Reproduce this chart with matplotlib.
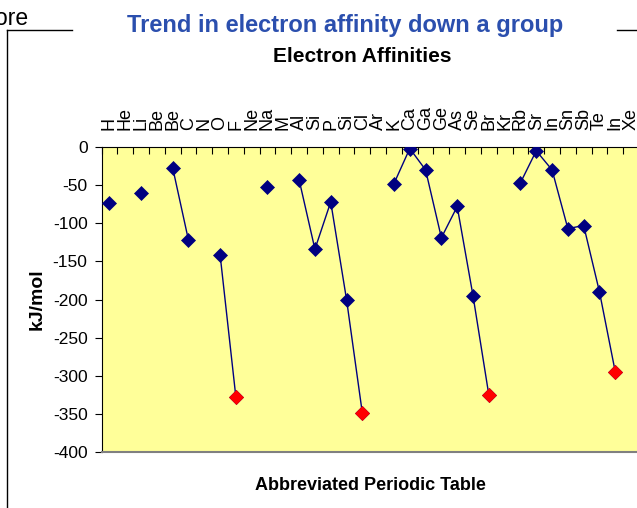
import numpy as np
import matplotlib
matplotlib.use("Agg")
import matplotlib.pyplot as plt
from matplotlib.lines import Line2D

plt.rcParams['font.family'] = ['Liberation Sans', 'DejaVu Sans']
plt.rcParams['axes.unicode_minus'] = False

# symbols along the top axis, as typed in the sheet
elements = ["H", "He", "Li", "Be", "Be", "C", "N", "O", "F", "Ne", "Na", "M",
            "Al", "Si", "P", "Si", "Cl", "Ar", "K", "Ca", "Ga", "Ge", "As", "Se",
            "Br", "Kr", "Rb", "Sr", "In", "Sn", "Sb", "Te", "In", "Xe"]

# electron affinity (kJ/mol); None = no value, breaks the line
affinity = [-73, None, -60, None, -27, -122, None, -141, -328, None, -53, None,
            -43, -134, -72, -200, -349, None, -48, -2, -30, -119, -78, -195,
            -325, None, -47, -5, -30, -107, -103, -190, -295, None]

# halogens (F, Cl, Br, I) drawn with red markers
halogen_idx = [8, 16, 24, 32]

W, H = 637, 508
fig = plt.figure(figsize=(W / 100, H / 100), dpi=100)
ax = fig.add_axes([101.5 / W, 1 - 452 / H, (639 - 101.5) / W, (452 - 147) / H])
ax.set_facecolor('#FFFF99')

x = np.arange(len(elements))
y = np.array([np.nan if v is None else v for v in affinity], dtype=float)
ax.plot(x, y, color='#000080', lw=1, marker='D', ms=7,
        mfc='#000080', mec='#000080', mew=0.5, zorder=3)
ax.plot(halogen_idx, [affinity[i] for i in halogen_idx], ls='none', marker='D',
        ms=7, mfc='#FF0000', mec='#FF0000', mew=0.5, zorder=4)

ax.set_xlim(-0.5, len(elements) - 0.5)
ax.set_ylim(-400, 0)
ax.set_yticks(range(-400, 1, 50))

# category axis sits at y=0, i.e. along the top
ax.xaxis.tick_top()
ax.set_xticks(np.arange(-0.5, len(elements)))
ax.set_xticklabels([])
ax.set_xticks(x, minor=True)
ax.set_xticklabels(elements, minor=True, rotation=90)
ax.tick_params(axis='x', which='major', direction='in', length=5, width=0.8,
               top=True, bottom=False)
ax.tick_params(axis='x', which='minor', length=0, pad=12, labelsize=13,
               top=True, bottom=False, labeltop=True, labelbottom=False)
ax.tick_params(axis='y', direction='out', length=5, width=0.8, labelsize=12.5, pad=5)

ax.spines['top'].set_color('black')
ax.spines['left'].set_color('black')
ax.spines['bottom'].set_color('#808080')
ax.spines['bottom'].set_linewidth(1.5)
ax.spines['right'].set_visible(False)

ax.set_ylabel('kJ/mol', fontsize=14, fontweight='bold', labelpad=5)
ax.xaxis.set_label_position('bottom')
ax.set_xlabel('Abbreviated Periodic Table', fontsize=13, fontweight='bold', labelpad=18)

# chart titles
fig.text(345 / W, 1 - 32 / H, 'Trend in electron affinity down a group', ha='center',
         va='baseline', fontsize=17, fontweight='bold', color='#2B4FAE')
fig.text(362 / W, 1 - 62 / H, 'Electron Affinities', ha='center', va='baseline',
         fontsize=15, fontweight='bold')
fig.text(28 / W, 1 - 25 / H, 'ore', ha='right', va='baseline', fontsize=16.5)

# chart border, broken where the title sits
top = 1 - 30 / H
for xs, ys in [([7 / W, 7 / W], [0, top]),
               ([7 / W, 72 / W], [top, top]),
               ([617 / W, 1], [top, top])]:
    fig.add_artist(Line2D(xs, ys, color='black', lw=1, transform=fig.transFigure))

fig.savefig('out.png', dpi=100)
